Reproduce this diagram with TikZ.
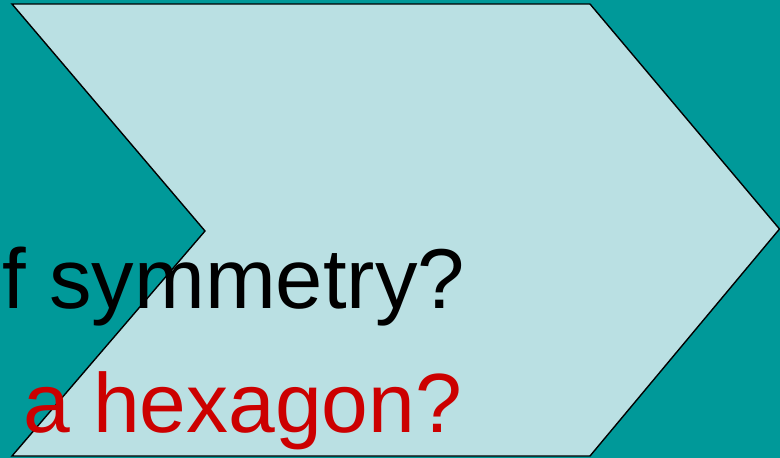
\documentclass[tikz,border=0pt]{standalone}
\usepackage{fontspec}
\setmainfont{Liberation Sans}
\definecolor{bgteal}{HTML}{009999}
\definecolor{chev}{HTML}{BAE0E3}
\definecolor{qred}{HTML}{CC0000}
\begin{document}
\begin{tikzpicture}[x=1pt,y=-1pt,
  bigtext/.style={anchor=base west,inner sep=0pt}]
\fill[bgteal] (0,0) rectangle (780,458);
\useasboundingbox (0,0) rectangle (780,458);
\coordinate (tl) at (12,4);
\coordinate (tr) at (590,4);
\coordinate (tip) at (779.5,229);
\coordinate (br) at (590,456);
\coordinate (bl) at (12,456);
\coordinate (notch) at (205,231);
\draw[fill=chev,line width=1.4pt,line join=miter] (tl) -- (tr) -- (tip) -- (br) -- (bl) -- (notch) -- cycle;
\begin{scope}
\clip (0,0) rectangle (780,458);
\node[bigtext,text=black,font=\fontsize{85}{90}\selectfont] (t1) at (2,308) {f symmetry?};
\node[bigtext,text=qred,font=\fontsize{84}{90}\selectfont] (t2) at (23,432) {a hexagon?};
\end{scope}
\end{tikzpicture}
\end{document}
